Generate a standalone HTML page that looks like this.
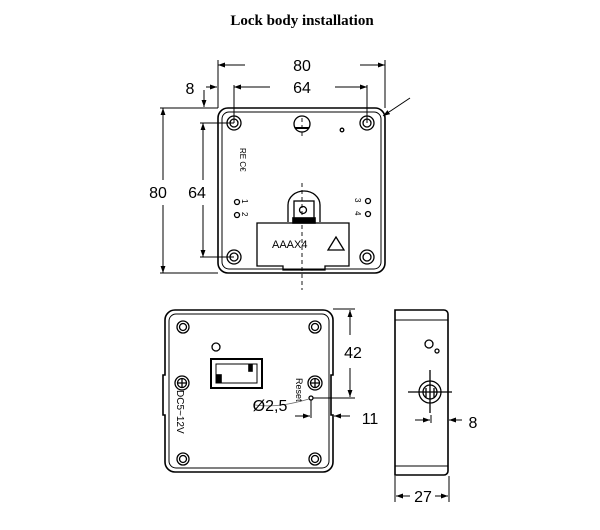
<!DOCTYPE html>
<html><head><style>body{margin:0;background:#fff}svg{display:block}</style></head><body>
<svg width="600" height="530" viewBox="0 0 600 530" xmlns="http://www.w3.org/2000/svg" font-family="Liberation Sans, sans-serif">
<defs><marker id="a" viewBox="0 0 10 10" refX="10" refY="5" markerWidth="7" markerHeight="7" orient="auto-start-reverse"><path d="M0,1.5 L10,5 L0,8.5 z" fill="#000"/></marker></defs>
<text x="302" y="25" text-anchor="middle" font-family="Liberation Serif, serif" font-weight="bold" font-size="15">Lock body installation</text>
<g stroke="#000" fill="none" stroke-width="1.6">
<!-- top view -->
<rect x="218" y="108" width="167" height="165" rx="10"/>
<rect x="222" y="112" width="159" height="157" rx="7" stroke-width="1"/>
<g stroke-width="1.3"><circle cx="234" cy="123" r="7"/><circle cx="234" cy="123" r="4"/><circle cx="367" cy="123" r="7"/><circle cx="367" cy="123" r="4"/><circle cx="234" cy="257" r="7"/><circle cx="234" cy="257" r="4"/><circle cx="367" cy="257" r="7"/><circle cx="367" cy="257" r="4"/>
<circle cx="302" cy="124" r="8"/><circle cx="342" cy="130" r="1.8"/>
<circle cx="237" cy="202" r="2.5"/><circle cx="237" cy="215" r="2.5"/><circle cx="368" cy="201" r="2.5"/><circle cx="368" cy="214" r="2.5"/>
<path d="M257,223 H349 V266 H325 V270 H283 V266 H257 Z"/>
<path d="M288,222 V205 A16,14 0 0 1 320,205 V222"/>
<rect x="294" y="201" width="20" height="18"/><circle cx="303" cy="210" r="3.5"/>
<path d="M328,250 L336,237 L344,250 Z"/></g>
<rect x="293" y="218" width="22" height="5" fill="#000"/>
<path d="M302,183 V290 M302,118 V137" stroke-dasharray="4,3" stroke-width="0.9"/>
<path d="M295,128 H309" stroke-width="2"/>
<!-- dims top -->
<g stroke-width="1">
<path d="M218,60 V108 M385,60 V108 M234,85 V123 M367,85 V123 M160,108 H218 M160,273 H218 M200,123 H234 M200,257 H234 M204,90 V105"/>
<path d="M245,65 H218" marker-end="url(#a)"/><path d="M360,65 H385" marker-end="url(#a)"/>
<path d="M270,87 H234" marker-end="url(#a)"/><path d="M335,87 H367" marker-end="url(#a)"/>
<path d="M163,180 V108" marker-end="url(#a)"/><path d="M163,205 V273" marker-end="url(#a)"/>
<path d="M203,180 V123" marker-end="url(#a)"/><path d="M203,205 V257" marker-end="url(#a)"/>
<path d="M204,90 V107" marker-end="url(#a)"/><path d="M206,87 H217" marker-end="url(#a)"/>
<path d="M410,98 L383,116" marker-end="url(#a)"/>
</g>
<!-- bottom view -->
<path d="M175,310 H323 A10,10 0 0 1 333,320 V375 H331 V415 H333 V462 A10,10 0 0 1 323,472 H175 A10,10 0 0 1 165,462 V415 H163 V375 H165 V320 A10,10 0 0 1 175,310 Z"/>
<rect x="169" y="314" width="160" height="154" rx="7" stroke-width="1"/>
<g stroke-width="1.3"><circle cx="183" cy="327" r="6"/><circle cx="183" cy="327" r="3.5"/><circle cx="315" cy="327" r="6"/><circle cx="315" cy="327" r="3.5"/><circle cx="183" cy="459" r="6"/><circle cx="183" cy="459" r="3.5"/><circle cx="315" cy="459" r="6"/><circle cx="315" cy="459" r="3.5"/>
<circle cx="182" cy="383" r="7"/><circle cx="182" cy="383" r="4.5"/><path d="M177.5,383 H186.5 M182,378.5 V387.5"/>
<circle cx="315" cy="383" r="7"/><circle cx="315" cy="383" r="4.5"/><path d="M310.5,383 H319.5 M315,378.5 V387.5"/>
<circle cx="216" cy="347" r="4"/><circle cx="311" cy="398" r="2"/>
<rect x="211" y="359" width="51" height="29" stroke-width="2"/><rect x="216" y="364" width="41" height="19" stroke-width="1"/></g>
<rect x="217" y="375" width="4" height="7" fill="#000"/><rect x="249" y="365" width="3" height="6" fill="#000"/>
<path d="M255,405 C275,408 295,403 309,399" stroke-width="0.7" stroke="#666"/>
<g stroke-width="1">
<path d="M333,309 H355 M313,398 H355 M311,400 V418 M333,415 V420"/>
<path d="M350,335 V310" marker-end="url(#a)"/><path d="M350,368 V397" marker-end="url(#a)"/>
<path d="M295,416 H310" marker-end="url(#a)"/><path d="M350,416 H334" marker-end="url(#a)"/>
</g>
<!-- side view -->
<path d="M395,310 H444 A4,4 0 0 1 448,314 V471 A4,4 0 0 1 444,475 H395 Z"/>
<path d="M395,320 H448 M395,466 H448" stroke-width="1"/>
<g stroke-width="1.3"><circle cx="429" cy="344" r="4"/><circle cx="437" cy="351" r="2"/>
<circle cx="430" cy="392" r="11"/><circle cx="430" cy="392" r="7"/><path d="M408,392 H452 M430,370 V413 M426,388 V398 M434,388 V398"/></g>
<g stroke-width="1">
<path d="M431,415 V423 M395,476 V502 M449,476 V502"/>
<path d="M415,420 H430" marker-end="url(#a)"/><path d="M462,420 H449" marker-end="url(#a)"/>
<path d="M410,496 H396" marker-end="url(#a)"/><path d="M435,496 H448" marker-end="url(#a)"/>
</g>
</g>
<g font-size="16" text-anchor="middle" fill="#000">
<rect x="285" y="55" width="34" height="18" fill="#fff"/><text x="302" y="71">80</text>
<rect x="285" y="77" width="34" height="18" fill="#fff"/><text x="302" y="93">64</text>
<text x="190" y="94">8</text>
<rect x="146" y="182" width="24" height="18" fill="#fff"/><text x="158" y="198">80</text>
<rect x="185" y="182" width="24" height="18" fill="#fff"/><text x="197" y="198">64</text>
<text x="353" y="358">42</text><text x="370" y="424">11</text><text x="473" y="428">8</text>
<rect x="411" y="487" width="24" height="16" fill="#fff"/><text x="423" y="502">27</text>
<text x="270" y="411">Ø2,5</text>
</g>
<g font-size="11" fill="#000">
<text x="272" y="248">AAAX4</text>
<text transform="translate(177,390) rotate(90)" font-size="10">DC5~12V</text>
<text transform="translate(296,378) rotate(90)" font-size="9">Reset</text>
<text transform="translate(240,148) rotate(90)" font-size="8">RE C€</text>
<text transform="translate(242,199) rotate(90)" font-size="8">1</text>
<text transform="translate(242,212) rotate(90)" font-size="8">2</text>
<text transform="translate(355,198) rotate(90)" font-size="8">3</text>
<text transform="translate(355,211) rotate(90)" font-size="8">4</text>
</g>
</svg>
</body></html>
